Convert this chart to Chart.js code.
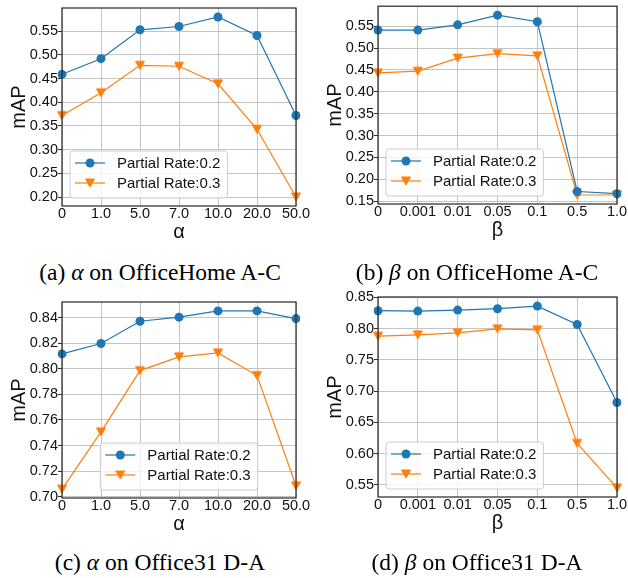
<!DOCTYPE html>
<html>
<head>
<meta charset="utf-8">
<script src="https://cdn.jsdelivr.net/npm/chart.js@4.4.1/dist/chart.umd.min.js"></script>
<style>
  html, body { margin: 0; padding: 0; background: #fff; }
  body { position: relative; width: 628px; height: 578px; overflow: hidden; }
  canvas { position: absolute; }
  .cap { position: absolute; width: 320px; text-align: center; font: 23.5px/1 "Liberation Serif", serif; color: #000; white-space: nowrap; }
</style>
</head>
<body>
<canvas id="chartA"></canvas>
<canvas id="chartB"></canvas>
<canvas id="chartC"></canvas>
<canvas id="chartD"></canvas>
<div class="cap" style="left:0px;top:261px">(a) <i>α</i> on OfficeHome A-C</div>
<div class="cap" style="left:317px;top:261px">(b) <i>β</i> on OfficeHome A-C</div>
<div class="cap" style="left:0px;top:551px">(c) <i>α</i> on Office31 D-A</div>
<div class="cap" style="left:317px;top:551px">(d) <i>β</i> on Office31 D-A</div>
<script>
// x categories
const alphaLabels = ['0', '1.0', '5.0', '7.0', '10.0', '20.0', '50.0'];
const betaLabels = ['0', '0.001', '0.01', '0.05', '0.1', '0.5', '1.0'];

// OfficeHome A-C
const homeAlpha02 = [0.459, 0.492, 0.553, 0.560, 0.580, 0.541, 0.372];
const homeAlpha03 = [0.372, 0.420, 0.478, 0.476, 0.439, 0.343, 0.200];
const homeBeta02 = [0.541, 0.541, 0.553, 0.575, 0.560, 0.172, 0.167];
const homeBeta03 = [0.443, 0.447, 0.477, 0.487, 0.482, 0.164, 0.164];

// Office31 D-A
const officeAlpha02 = [0.8116, 0.8197, 0.8371, 0.8403, 0.8452, 0.8452, 0.8392];
const officeAlpha03 = [0.7060, 0.7507, 0.7986, 0.8093, 0.8124, 0.7947, 0.7086];
const officeBeta02 = [0.8286, 0.8280, 0.8296, 0.8318, 0.8360, 0.8066, 0.6818];
const officeBeta03 = [0.7879, 0.7900, 0.7932, 0.7996, 0.7980, 0.6163, 0.5451];

const BLUE = '#1f77b4', ORANGE = '#ff7f0e', GRID = '#c4c4c4';
const SANS = '"Liberation Sans", Arial, sans-serif';
const tickFont = { family: SANS, size: 14.5, lineHeight: 1 };
const titleFont = { family: SANS, size: 20, lineHeight: 1 };

// matplotlib-like 'v' marker
const triangle = document.createElement('canvas');
triangle.width = 12; triangle.height = 12;
(function () {
  const c = triangle.getContext('2d');
  c.fillStyle = ORANGE; c.strokeStyle = ORANGE; c.lineWidth = 1;
  c.beginPath(); c.moveTo(1.5, 2); c.lineTo(10.5, 2); c.lineTo(6, 10); c.closePath();
  c.fill(); c.stroke();
})();

// autoscale with 5% margins like matplotlib
function limits(a, b) {
  const all = a.concat(b);
  const lo = Math.min(...all), hi = Math.max(...all);
  const m = (hi - lo) * 0.05;
  return [lo - m, hi + m];
}

const framePlugin = {
  id: 'frame',
  afterDatasetsDraw(chart) {
    const { ctx, chartArea: a } = chart;
    ctx.save();
    ctx.strokeStyle = '#262626';
    ctx.lineWidth = 1.2;
    ctx.strokeRect(a.left, a.top, a.right - a.left, a.bottom - a.top);
    ctx.restore();
  }
};

const insideLegend = {
  id: 'insideLegend',
  afterDraw(chart, args, opts) {
    const { ctx, chartArea: a } = chart;
    const sets = chart.data.datasets;
    ctx.save();
    ctx.font = '15px ' + SANS;
    const textW = Math.max(...sets.map(d => ctx.measureText(d.label).width));
    const w = 47 + textW + 7, h = 47;
    const x = opts.align === 'center' ? (a.left + a.right - w) / 2 : a.left + 8;
    const y = a.bottom - 8 - h;
    ctx.beginPath();
    ctx.roundRect(x, y, w, h, 3);
    ctx.fillStyle = 'rgba(255,255,255,0.8)';
    ctx.fill();
    ctx.strokeStyle = '#cccccc';
    ctx.lineWidth = 1;
    ctx.stroke();
    sets.forEach((d, i) => {
      const ry = y + 12 + i * 20;
      ctx.strokeStyle = d.borderColor;
      ctx.lineWidth = d.borderWidth;
      ctx.beginPath(); ctx.moveTo(x + 5, ry); ctx.lineTo(x + 35, ry); ctx.stroke();
      if (d.pointStyle === 'circle') {
        ctx.fillStyle = d.backgroundColor;
        ctx.beginPath(); ctx.arc(x + 20, ry, d.pointRadius, 0, Math.PI * 2); ctx.fill();
      } else {
        ctx.drawImage(d.pointStyle, x + 20 - 6, ry - 6);
      }
      ctx.fillStyle = '#111';
      ctx.textBaseline = 'middle';
      ctx.fillText(d.label, x + 47, ry + 1);
    });
    ctx.restore();
  }
};

function makePanel(id, box, area, labels, rate02, rate03, xTitle, step, legendAlign) {
  const cv = document.getElementById(id);
  cv.width = box.w; cv.height = box.h;
  cv.style.left = box.x + 'px'; cv.style.top = box.y + 'px';
  const [lo, hi] = limits(rate02, rate03);
  const yAxisW = area.l - box.x;
  const xAxisH = box.y + box.h - area.b;
  return new Chart(cv, {
    type: 'line',
    data: {
      labels: labels,
      datasets: [
        { label: 'Partial Rate:0.2', data: rate02, borderColor: BLUE, backgroundColor: BLUE,
          borderWidth: 1.2, pointStyle: 'circle', pointRadius: 4.5, pointBorderWidth: 0, tension: 0 },
        { label: 'Partial Rate:0.3', data: rate03, borderColor: ORANGE, backgroundColor: ORANGE,
          borderWidth: 1.2, pointStyle: triangle, pointRadius: 5, tension: 0 }
      ]
    },
    options: {
      responsive: false,
      animation: false,
      devicePixelRatio: 1,
      layout: { padding: { left: 0, top: area.t - box.y, right: box.x + box.w - area.r, bottom: 0 } },
      plugins: {
        legend: { display: false },
        tooltip: { enabled: false },
        insideLegend: { align: legendAlign }
      },
      scales: {
        x: {
          grid: { color: GRID, lineWidth: 1, drawTicks: false },
          border: { display: false },
          ticks: { font: tickFont, color: '#111', padding: 1, maxRotation: 0, autoSkip: false },
          title: { display: true, text: xTitle, font: titleFont, color: '#111',
                   padding: { top: 0, bottom: box.y + box.h - (area.b + 26) - 10 } },
          afterFit: s => { s.height = xAxisH; s.paddingLeft = 0; s.paddingRight = 0; }
        },
        y: {
          min: lo, max: hi,
          grid: { color: GRID, lineWidth: 1, tickColor: '#333', tickLength: 4 },
          border: { display: false },
          ticks: { stepSize: step, includeBounds: false, font: tickFont, color: '#111', padding: 0,
                   callback: v => v.toFixed(2) },
          title: { display: true, text: 'mAP', font: titleFont, color: '#111',
                   padding: { top: area.l - 43 - box.x - 10, bottom: 0 } },
          afterFit: s => { s.width = yAxisW; s.paddingTop = 0; s.paddingBottom = 0; }
        }
      }
    },
    plugins: [framePlugin, insideLegend]
  });
}

makePanel('chartA', { x: 0, y: 0, w: 318, h: 256 }, { l: 62, t: 8, r: 296, b: 206 },
  alphaLabels, homeAlpha02, homeAlpha03, 'α', 0.05, 'left');
makePanel('chartB', { x: 314, y: 0, w: 320, h: 256 }, { l: 378, t: 5, r: 617, b: 204 },
  betaLabels, homeBeta02, homeBeta03, 'β', 0.05, 'left');
makePanel('chartC', { x: 0, y: 290, w: 318, h: 256 }, { l: 62, t: 302, r: 296, b: 498 },
  alphaLabels, officeAlpha02, officeAlpha03, 'α', 0.02, 'center');
makePanel('chartD', { x: 314, y: 290, w: 320, h: 256 }, { l: 378, t: 297, r: 617, b: 497 },
  betaLabels, officeBeta02, officeBeta03, 'β', 0.05, 'left');
</script>
</body>
</html>
